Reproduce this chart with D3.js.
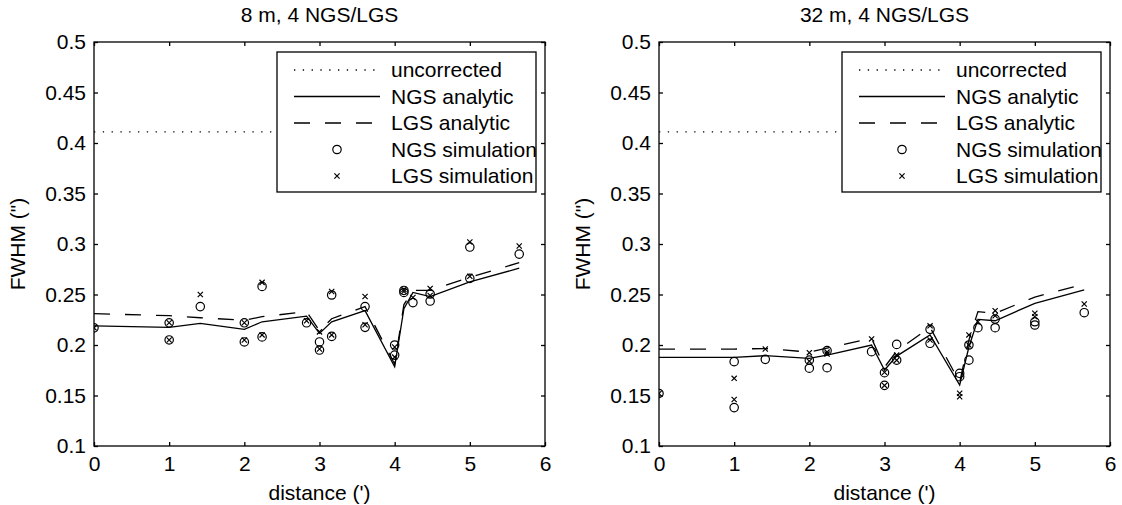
<!DOCTYPE html>
<html><head><meta charset="utf-8">
<script src="https://cdn.jsdelivr.net/npm/d3@7"></script>
<style>body{margin:0;background:#fff}svg{display:block}text{font-family:"Liberation Sans",Arial,Helvetica,sans-serif;fill:#000}</style>
</head><body>
<script>
// ---- data ----
const titles = ["8 m, 4 NGS/LGS", "32 m, 4 NGS/LGS"];
const xTicks = [0, 1, 2, 3, 4, 5, 6];
const yTicks = [0.1, 0.15, 0.2, 0.25, 0.3, 0.35, 0.4, 0.45, 0.5];
const legendLabels = ["uncorrected", "NGS analytic", "LGS analytic", "NGS simulation", "LGS simulation"];
const uncorrected = [0.411, 0.411];
const uncorrectedDist = [0, 5.657];
const analyticDist = [0, 1, 1.414, 2, 2.236, 2.828, 3, 3.162, 3.606, 4, 4.123, 4.243, 4.472, 5, 5.657];
const ngsAnalytic8 = [0.219, 0.2175, 0.2215, 0.2155, 0.223, 0.2285, 0.2115, 0.223, 0.234, 0.1785, 0.236, 0.252, 0.248, 0.2625, 0.276];
const lgsAnalytic8 = [0.231, 0.229, 0.227, 0.2245, 0.228, 0.233, 0.214, 0.226, 0.238, 0.181, 0.24, 0.254, 0.254, 0.267, 0.2815];
const ngsAnalytic32 = [0.1878, 0.1878, 0.1894, 0.1868, 0.190, 0.200, 0.1752, 0.189, 0.210, 0.1604, 0.198, 0.2254, 0.224, 0.2413, 0.2545];
const lgsAnalytic32 = [0.196, 0.196, 0.1965, 0.193, 0.197, 0.2066, 0.178, 0.194, 0.2175, 0.163, 0.205, 0.233, 0.2315, 0.2475, 0.2604];
const simDist = [0, 1, 1, 1.414, 2, 2, 2.236, 2.236, 2.828, 3, 3, 3.162, 3.162, 3.606, 3.606, 4, 4, 4.123, 4.123, 4.243, 4.472, 4.472, 5, 5, 5.657];
const ngsSim8 = [0.217, 0.222, 0.205, 0.238, 0.222, 0.203, 0.258, 0.208, 0.222, 0.203, 0.195, 0.2495, 0.2085, 0.238, 0.2175, 0.200, 0.190, 0.254, 0.252, 0.242, 0.2505, 0.2435, 0.297, 0.266, 0.290];
const lgsSim8 = [0.217, 0.222, 0.205, 0.250, 0.222, 0.205, 0.262, 0.210, 0.224, 0.213, 0.196, 0.253, 0.210, 0.248, 0.220, 0.198, 0.188, 0.255, 0.253, 0.247, 0.256, 0.249, 0.302, 0.268, 0.298];
const ngsSim32 = [0.152, 0.1835, 0.138, 0.1858, 0.185, 0.177, 0.1944, 0.1775, 0.1934, 0.1726, 0.160, 0.2006, 0.185, 0.2155, 0.2017, 0.172, 0.1686, 0.200, 0.185, 0.2171, 0.2257, 0.2171, 0.223, 0.2198, 0.232];
const lgsSim32 = [0.152, 0.167, 0.146, 0.196, 0.1924, 0.184, 0.193, 0.191, 0.206, 0.173, 0.160, 0.190, 0.185, 0.219, 0.205, 0.1522, 0.1488, 0.210, 0.200, 0.223, 0.234, 0.229, 0.2314, 0.228, 0.2406];

const panelData = [
  {title: titles[0], ngsA: ngsAnalytic8, lgsA: lgsAnalytic8, ngsS: ngsSim8, lgsS: lgsSim8},
  {title: titles[1], ngsA: ngsAnalytic32, lgsA: lgsAnalytic32, ngsS: ngsSim32, lgsS: lgsSim32}
];

// ---- layout ----
const W = 1122, H = 505;
const FONT = 21;
const panelLeft = [94, 659];
const panelWidth = 451;
const yTop = 42, yBottom = 446;
const LW = 1.3;

const svg = d3.select("body").append("svg").attr("width", W).attr("height", H);
svg.append("rect").attr("width", W).attr("height", H).attr("fill", "#fff");

const fmt = d => String(+d.toFixed(2));

panelData.forEach((p, i) => {
  const L = panelLeft[i], R = L + panelWidth;
  const x = d3.scaleLinear().domain([0, 6]).range([L, R]);
  const y = d3.scaleLinear().domain([0.1, 0.5]).range([yBottom, yTop]);
  const g = svg.append("g");

  const axL = g.append("g").attr("transform", `translate(${L},0)`)
    .call(d3.axisLeft(y).tickValues(yTicks).tickSize(-4).tickPadding(8).tickFormat(fmt));
  const axR = g.append("g").attr("transform", `translate(${R},0)`)
    .call(d3.axisRight(y).tickValues(yTicks).tickSize(-4).tickFormat(""));
  const axB = g.append("g").attr("transform", `translate(0,${yBottom})`)
    .call(d3.axisBottom(x).tickValues(xTicks).tickSize(-4).tickPadding(10).tickFormat(d3.format("d")));
  const axT = g.append("g").attr("transform", `translate(0,${yTop})`)
    .call(d3.axisTop(x).tickValues(xTicks).tickSize(-4).tickFormat(""));
  [axL, axR, axB, axT].forEach(a => {
    a.select(".domain").remove();
    a.selectAll("line").attr("stroke", "#000").attr("stroke-width", LW);
    a.selectAll("text").attr("font-size", FONT).attr("font-family", '"Liberation Sans",Arial,sans-serif').attr("fill", "#000");
  });
  axB.selectAll("text").attr("dy", "0.71em");

  const plotClip = "clip" + i;
  svg.append("clipPath").attr("id", plotClip).append("rect")
    .attr("x", L).attr("y", yTop).attr("width", panelWidth).attr("height", yBottom - yTop);
  const plot = g.append("g").attr("clip-path", `url(#${plotClip})`);

  const line = d3.line().x(d => x(d[0])).y(d => y(d[1]));
  plot.append("path").datum(uncorrectedDist.map((d, k) => [d, uncorrected[k]]))
    .attr("d", line).attr("fill", "none").attr("stroke", "#000").attr("stroke-width", 1.3)
    .attr("stroke-dasharray", "1.3,7.5");
  plot.append("path").datum(analyticDist.map((d, k) => [d, p.ngsA[k]]))
    .attr("d", line).attr("fill", "none").attr("stroke", "#000").attr("stroke-width", LW);
  plot.append("path").datum(analyticDist.map((d, k) => [d, p.lgsA[k]]))
    .attr("d", line).attr("fill", "none").attr("stroke", "#000").attr("stroke-width", LW)
    .attr("stroke-dasharray", "16,15");

  plot.selectAll(".c").data(simDist.map((d, k) => [d, p.ngsS[k]])).join("circle")
    .attr("cx", d => x(d[0])).attr("cy", d => y(d[1])).attr("r", 4.2)
    .attr("fill", "none").attr("stroke", "#000").attr("stroke-width", 1.2);
  const xs = 2.6;
  plot.selectAll(".x").data(simDist.map((d, k) => [d, p.lgsS[k]])).join("path")
    .attr("d", d => { const cx = x(d[0]), cy = y(d[1]);
      return `M${cx - xs},${cy - xs}L${cx + xs},${cy + xs}M${cx - xs},${cy + xs}L${cx + xs},${cy - xs}`; })
    .attr("fill", "none").attr("stroke", "#000").attr("stroke-width", 1.2);

  g.append("rect").attr("x", L).attr("y", yTop).attr("width", panelWidth).attr("height", yBottom - yTop)
    .attr("fill", "none").attr("stroke", "#000").attr("stroke-width", LW);

  g.append("text").attr("x", (L + R) / 2).attr("y", 22).attr("text-anchor", "middle")
    .attr("font-size", FONT).text(p.title);
  g.append("text").attr("x", (L + R) / 2).attr("y", 500).attr("text-anchor", "middle")
    .attr("font-size", FONT).text("distance (')");
  g.append("text").attr("transform", `translate(${L - 76},${(yTop + yBottom) / 2}) rotate(-90)`)
    .attr("text-anchor", "middle").attr("dy", "0.35em").attr("font-size", FONT).text('FWHM (")');

  const lgL = L + 183, lgR = L + 442, lgT = 52, lgB = 192;
  const lg = g.append("g");
  lg.append("rect").attr("x", lgL).attr("y", lgT).attr("width", lgR - lgL).attr("height", lgB - lgT)
    .attr("fill", "#fff").attr("stroke", "#000").attr("stroke-width", LW);
  const rowY = k => 70 + k * 26.5;
  const sx0 = lgL + 17, sx1 = lgL + 103, mx = lgL + 60, tx = lgL + 114;
  const styles = ["1.3,7.5", null, "16,15"];
  [0, 1, 2].forEach(k => {
    const ln = lg.append("line").attr("x1", sx0).attr("x2", sx1).attr("y1", rowY(k)).attr("y2", rowY(k))
      .attr("stroke", "#000").attr("stroke-width", 1.3);
    if (styles[k]) ln.attr("stroke-dasharray", styles[k]);
  });
  lg.append("circle").attr("cx", mx).attr("cy", rowY(3)).attr("r", 4.2)
    .attr("fill", "none").attr("stroke", "#000").attr("stroke-width", 1.2);
  lg.append("path").attr("d", `M${mx - xs},${rowY(4) - xs}L${mx + xs},${rowY(4) + xs}M${mx - xs},${rowY(4) + xs}L${mx + xs},${rowY(4) - xs}`)
    .attr("stroke", "#000").attr("stroke-width", 1.2);
  legendLabels.forEach((t, k) => {
    lg.append("text").attr("x", tx).attr("y", rowY(k)).attr("dy", "0.35em").attr("font-size", FONT).text(t);
  });
});
</script>
</body></html>
